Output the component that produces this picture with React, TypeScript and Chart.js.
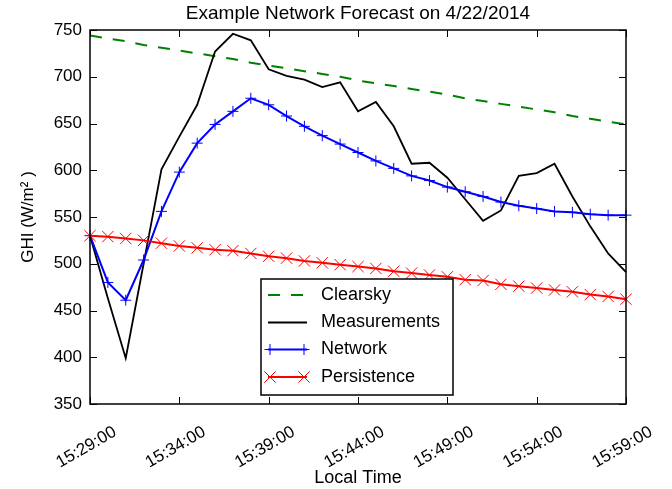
import React, { useEffect, useRef } from 'react';
import { Chart, registerables } from 'chart.js';

Chart.register(...registerables);

const FONT = '"Liberation Sans", Arial, Helvetica, sans-serif';

const times = [
  '15:29:00', '15:30:00', '15:31:00', '15:32:00', '15:33:00', '15:34:00', '15:35:00', '15:36:00',
  '15:37:00', '15:38:00', '15:39:00', '15:40:00', '15:41:00', '15:42:00', '15:43:00', '15:44:00',
  '15:45:00', '15:46:00', '15:47:00', '15:48:00', '15:49:00', '15:50:00', '15:51:00', '15:52:00',
  '15:53:00', '15:54:00', '15:55:00', '15:56:00', '15:57:00', '15:58:00', '15:59:00',
];
const xTickLabels = ['15:29:00', '15:34:00', '15:39:00', '15:44:00', '15:49:00', '15:54:00', '15:59:00'];

const clearsky = [
  744, 741, 738, 734, 731, 728, 725, 722, 719, 715, 712, 709, 706, 703, 700, 696,
  693, 690, 687, 684, 681, 677, 674, 671, 668, 665, 662, 658, 655, 652, 649,
];
const measurements = [
  530, 463, 399, 500, 601, 636, 670, 727, 746, 739, 708, 701, 697, 689, 694, 663,
  673, 647, 607, 608, 592, 569, 546, 557, 594, 597, 607, 572, 540, 511, 491,
];
const network = [
  530, 480, 461, 504, 556, 598, 629, 649, 663, 677, 670, 658, 647, 637, 628, 619,
  610, 602, 594, 589, 582, 577, 572, 566, 562, 559, 556, 555, 553, 552, 552,
];
const persistence = [
  530, 529, 527, 525, 522, 519, 517, 515, 514, 511, 508, 506, 503, 501, 499, 497,
  495, 492, 490, 488, 486, 483, 482, 478, 476, 474, 472, 470, 467, 465, 462,
];

const yMin = 350;
const yMax = 750;
const yStep = 50;

const titleText = 'Example Network Forecast on 4/22/2014';
const xTitle = 'Local Time';
const yTitle = 'GHI (W/m\u00B2 )';

const decorPlugin = {
  id: 'decor',
  afterDraw(chart: any) {
    const { ctx, chartArea: a, scales } = chart;
    ctx.save();
    // inward ticks
    const tl = 7;
    ctx.strokeStyle = '#000';
    ctx.lineWidth = 1;
    ctx.beginPath();
    const xs = scales.x;
    xs.ticks.forEach((t: any, i: number) => {
      const lab = chart.data.labels[t.value];
      if (!xTickLabels.includes(lab)) return;
      const px = Math.round(xs.getPixelForTick(i)) + 0.5;
      ctx.moveTo(px, a.bottom);
      ctx.lineTo(px, a.bottom - tl);
      ctx.moveTo(px, a.top);
      ctx.lineTo(px, a.top + tl);
    });
    const ys = scales.y;
    ys.ticks.forEach((t: any, i: number) => {
      const py = Math.round(ys.getPixelForTick(i)) + 0.5;
      ctx.moveTo(a.left, py);
      ctx.lineTo(a.left + tl, py);
      ctx.moveTo(a.right, py);
      ctx.lineTo(a.right - tl, py);
    });
    ctx.stroke();
    // frame
    ctx.lineWidth = 1.5;
    ctx.strokeRect(a.left, a.top, a.right - a.left, a.bottom - a.top);

    // title
    ctx.fillStyle = '#000';
    ctx.font = `19px ${FONT}`;
    ctx.textAlign = 'center';
    ctx.textBaseline = 'middle';
    ctx.fillText(titleText, (a.left + a.right) / 2, 14);

    // legend
    const L = a.left + 171;
    const T = a.top + 249;
    const W = 192;
    const H = 116;
    ctx.fillStyle = '#fff';
    ctx.fillRect(L, T, W, H);
    ctx.lineWidth = 1.5;
    ctx.strokeStyle = '#000';
    ctx.strokeRect(L, T, W, H);
    const rows = [16, 43.5, 70.5, 98];
    chart.data.datasets.forEach((ds: any, k: number) => {
      const y = T + rows[k];
      const x0 = L + 7;
      const x1 = L + 46;
      ctx.save();
      ctx.strokeStyle = ds.borderColor;
      ctx.lineWidth = ds.borderWidth;
      ctx.setLineDash(ds.borderDash || []);
      ctx.beginPath();
      ctx.moveTo(x0, y);
      ctx.lineTo(x1, y);
      ctx.stroke();
      ctx.setLineDash([]);
      if (ds.pointRadius > 0) {
        ctx.lineWidth = ds.pointBorderWidth;
        ctx.strokeStyle = ds.pointBorderColor;
        [L + 9, L + 43].forEach((mx) => {
          const r = ds.pointRadius;
          ctx.beginPath();
          if (ds.pointStyle === 'cross') {
            ctx.moveTo(mx - r, y);
            ctx.lineTo(mx + r, y);
            ctx.moveTo(mx, y - r);
            ctx.lineTo(mx, y + r);
          } else {
            const d = r * Math.SQRT1_2;
            ctx.moveTo(mx - d, y - d);
            ctx.lineTo(mx + d, y + d);
            ctx.moveTo(mx + d, y - d);
            ctx.lineTo(mx - d, y + d);
          }
          ctx.stroke();
        });
      }
      ctx.restore();
      ctx.fillStyle = '#000';
      ctx.font = `18px ${FONT}`;
      ctx.textAlign = 'left';
      ctx.textBaseline = 'middle';
      ctx.fillText(ds.label, L + 60, y);
    });
    ctx.restore();
  },
};

export default function App() {
  const ref = useRef<HTMLCanvasElement | null>(null);
  useEffect(() => {
    if (!ref.current) return;
    const chart = new Chart(ref.current, {
      type: 'line',
      data: {
        labels: times,
        datasets: [
          {
            label: 'Clearsky',
            data: clearsky,
            borderColor: '#008000',
            borderDash: [12, 11],
            borderWidth: 2,
            pointRadius: 0,
            order: 4,
          },
          {
            label: 'Measurements',
            data: measurements,
            borderColor: '#000000',
            borderWidth: 1.8,
            pointRadius: 0,
            order: 3,
          },
          {
            label: 'Network',
            data: network,
            borderColor: '#0000ff',
            borderWidth: 2,
            pointStyle: 'cross',
            pointRadius: 5.5,
            pointBorderColor: '#0000ff',
            pointBorderWidth: 1,
            order: 2,
          },
          {
            label: 'Persistence',
            data: persistence,
            borderColor: '#ff0000',
            borderWidth: 2,
            pointStyle: 'crossRot',
            pointRadius: 8,
            pointBorderColor: '#ff0000',
            pointBorderWidth: 1,
            order: 1,
          },
        ],
      } as any,
      options: {
        animation: false,
        responsive: false,
        layout: { padding: { top: 30, right: 46, left: 0, bottom: 0 } },
        plugins: {
          legend: { display: false },
          title: { display: false },
          tooltip: { enabled: false },
        },
        elements: { line: { tension: 0 } },
        scales: {
          x: {
            type: 'category',
            offset: false,
            grid: { display: false, drawTicks: false },
            border: { display: false },
            ticks: {
              autoSkip: false,
              minRotation: 30,
              maxRotation: 30,
              padding: 18,
              labelOffset: 25,
              color: '#000',
              font: { family: FONT, size: 17 },
              callback: (_v: any, i: number) => (xTickLabels.includes(times[i]) ? times[i] : null),
            },
            title: {
              display: true,
              text: xTitle,
              color: '#000',
              font: { family: FONT, size: 18 },
              padding: { top: 0, bottom: 0 },
            },
            afterFit: (s: any) => {
              s.height = 85;
            },
          },
          y: {
            min: yMin,
            max: yMax,
            grid: { display: false, drawTicks: false },
            border: { display: false },
            ticks: {
              stepSize: yStep,
              padding: 8,
              color: '#000',
              font: { family: FONT, size: 17 },
            },
            title: {
              display: true,
              text: yTitle,
              color: '#000',
              font: { family: FONT, size: 17 },
              padding: { top: 18, bottom: 0 },
            },
            afterFit: (s: any) => {
              s.width = 90;
            },
          },
        },
      } as any,
      plugins: [decorPlugin],
    });
    return () => chart.destroy();
  }, []);
  return (
    <div style={{ position: 'fixed', left: 0, top: 0, width: 672, height: 489, background: '#fff' }}>
      <canvas ref={ref} width={672} height={489} />
    </div>
  );
}
